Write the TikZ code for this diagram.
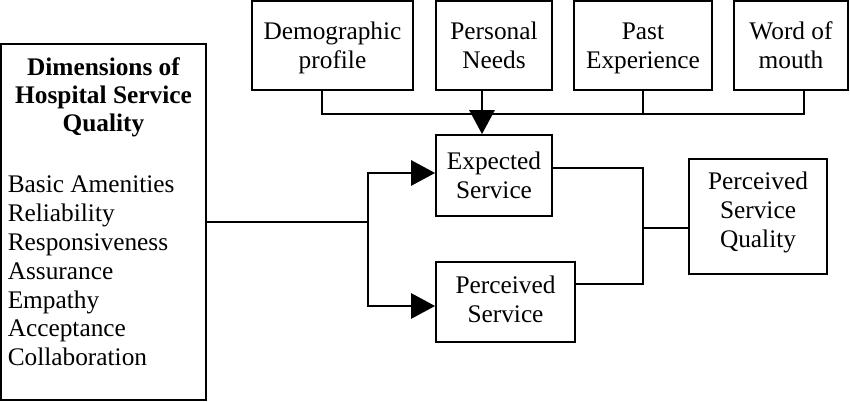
\documentclass[tikz,border=0pt]{standalone}
\usepackage{fontspec}
\setmainfont{Liberation Serif}
\usetikzlibrary{arrows.meta,calc}
\newdimen\upx
\upx=0.75pt
\begin{document}
\begin{tikzpicture}[x=0.75pt,y=-0.75pt,
  box/.style={draw,line width=1.4pt,inner sep=0pt,align=center,font=\fontsize{19}{21.75}\selectfont,text height=34.35pt,text depth=0pt},
  lbl/.style={inner sep=0pt,font=\fontsize{19}{21.75}\selectfont},
  conn/.style={line width=1.4pt},
  arr/.style={line width=1.4pt,-{Triangle[length=18pt,width=19pt]}}]
\useasboundingbox (0,0) rectangle (850,402);
% boxes
\node[box,minimum width=205\upx,minimum height=356\upx,text height=0pt,text depth=0pt] (dim) at (103.5,222) {};
\node[box,minimum width=161\upx,minimum height=89\upx] (demo) at (332.5,45.5) {Demographic\\profile};
\node[box,minimum width=116\upx,minimum height=89\upx] (pn) at (494,45.5) {Personal\\Needs};
\node[box,minimum width=138\upx,minimum height=89\upx] (pe) at (643,45.5) {Past\\Experience};
\node[box,minimum width=114\upx,minimum height=89\upx] (wom) at (791,45.5) {Word of\\mouth};
\node[box,minimum width=116\upx,minimum height=81\upx] (exp) at (494,175.5) {Expected\\Service};
\node[box,minimum width=139\upx,minimum height=80\upx,text depth=3pt] (perc) at (505.5,302) {Perceived\\Service};
\node[box,minimum width=138\upx,minimum height=115\upx,text height=56.1pt,text depth=9pt] (psq) at (758,216.5) {Perceived\\Service\\Quality};
% left box text
\node[lbl,anchor=base,font=\fontsize{19}{21.75}\selectfont\bfseries] (t1) at (103.5,75.5) {Dimensions of};
\node[lbl,anchor=base,font=\fontsize{19}{21.75}\selectfont\bfseries] (t2) at (103.5,104) {Hospital Service};
\node[lbl,anchor=base,font=\fontsize{19}{21.75}\selectfont\bfseries] (t3) at (103.5,132) {Quality};
\foreach \t [count=\i from 0] in {Basic Amenities,Reliability,Responsiveness,Assurance,Empathy,Acceptance,Collaboration}
  \node[lbl,anchor=base west] (l\i) at (7.5,{193+28.8*\i}) {\t};
% top bus
\coordinate (busL) at (322,114);
\coordinate (busR) at (804,114);
\draw[conn] ($(demo.south)+(-10.5,0)$) -- (busL) -- (busR) -- ($(wom.south)+(13,0)$);
\draw[conn] (pe.south) -- (pe.south |- busL);
\draw[arr] ($(pn.south)+(-12,0)$) -- ($(exp.north)+(-12,0)$);
% left connectors
\coordinate (jl) at (368,222);
\draw[conn] (dim.east) -- (jl);
\draw[arr] (jl) |- ($(exp.west)+(0,-2.5)$);
\draw[arr] (jl) |- ($(perc.west)+(0,4)$);
% right connectors
\coordinate (jrt) at (643,168);
\coordinate (jrb) at (643,284);
\coordinate (jrm) at (643,228);
\draw[conn] ($(exp.east)+(0,-7.5)$) -- (jrt) -- (jrb) -- (jrb -| perc.east);
\draw[conn] (jrm) -- (jrm -| psq.west);
\end{tikzpicture}
\end{document}
